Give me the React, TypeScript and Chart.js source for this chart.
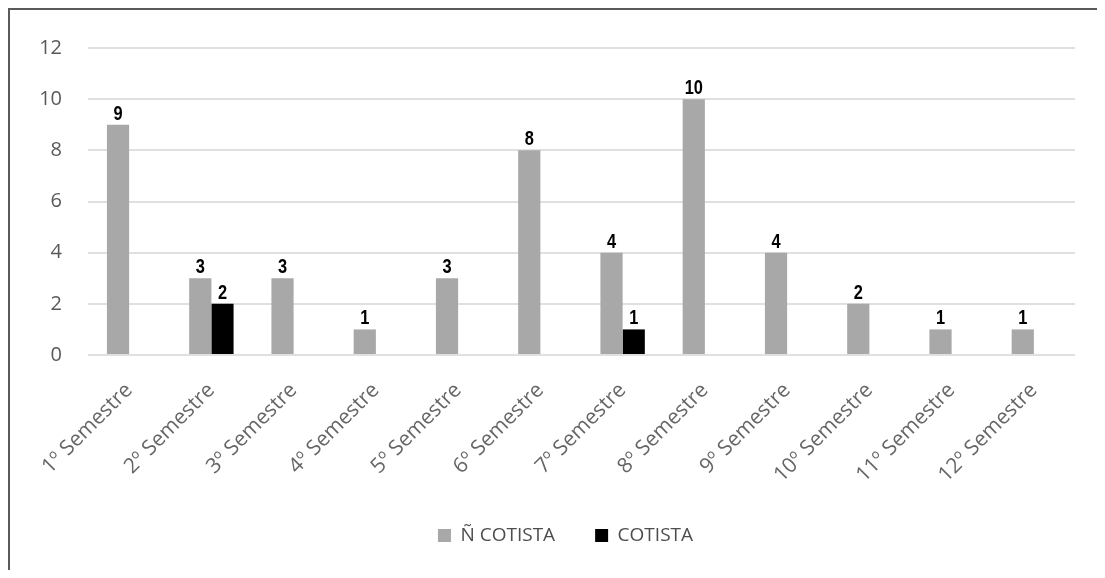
import React, { useEffect, useRef } from "react";
import { Chart, registerables } from "chart.js";

Chart.register(...registerables);

const categories = [
  "1º Semestre", "2º Semestre", "3º Semestre", "4º Semestre", "5º Semestre", "6º Semestre",
  "7º Semestre", "8º Semestre", "9º Semestre", "10º Semestre", "11º Semestre", "12º Semestre",
];
const naoCotista = [9, 3, 3, 1, 3, 8, 4, 10, 4, 2, 1, 1];
const cotista = [0, 2, 0, 0, 0, 0, 1, 0, 0, 0, 0, 0];
const yTicks = [0, 2, 4, 6, 8, 10, 12];

const valueLabels = {
  id: "valueLabels",
  afterDatasetsDraw(chart: any) {
    const ctx = chart.ctx;
    chart.data.datasets.forEach((ds: any, di: number) => {
      const meta = chart.getDatasetMeta(di);
      meta.data.forEach((bar: any, i: number) => {
        const v = ds.data[i];
        if (!v) return;
        ctx.save();
        ctx.font = "bold 20px 'Liberation Sans Narrow', 'Liberation Sans', Arial, sans-serif";
        ctx.fillStyle = "#000000";
        ctx.textAlign = "center";
        ctx.textBaseline = "alphabetic";
        ctx.translate(bar.x, bar.y - 5);
        ctx.scale(0.82, 1);
        ctx.fillText(String(v), 0, 0);
        ctx.restore();
      });
    });
  },
};

const legendShift = {
  id: "legendShift",
  afterLayout(chart: any) {
    if (chart.legend) {
      chart.legend.left += 46;
    }
  },
};

export default function App() {
  const ref = useRef<HTMLCanvasElement | null>(null);
  useEffect(() => {
    if (!ref.current) return;
    const chart = new Chart(ref.current, {
      type: "bar",
      data: {
        labels: categories,
        datasets: [
          {
            label: "Ñ COTISTA",
            data: naoCotista,
            backgroundColor: "#a8a8a8",
            categoryPercentage: 0.54,
            barPercentage: 1,
          },
          {
            label: "COTISTA",
            data: cotista,
            backgroundColor: "#000000",
            categoryPercentage: 0.54,
            barPercentage: 1,
          },
        ],
      },
      options: {
        animation: false,
        responsive: false,
        maintainAspectRatio: false,
        layout: { padding: { top: 32, left: 0, right: 22, bottom: 15 } },
        plugins: {
          tooltip: { enabled: false },
          legend: {
            position: "bottom",
            labels: {
              color: "#4d4d4d",
              font: { family: "'Open Sans', sans-serif", size: 19 },
              boxWidth: 13,
              boxHeight: 13,
              padding: 40,
            },
          },
        },
        scales: {
          x: {
            grid: { display: false },
            border: { display: false },
            ticks: {
              color: "#666666",
              font: { family: "'Open Sans', sans-serif", size: 21 },
              minRotation: 45,
              maxRotation: 45,
              padding: 15,
            },
            afterFit(scale: any) {
              scale.height = 131;
            },
          },
          y: {
            min: 0,
            max: 12,
            afterBuildTicks(scale: any) {
              scale.ticks = yTicks.map((v) => ({ value: v }));
            },
            grid: { color: "#e0e0e0", lineWidth: 2, drawTicks: false },
            border: { display: false },
            ticks: {
              color: "#595959",
              font: { family: "'Open Sans', sans-serif", size: 20 },
              padding: 26,
            },
            afterFit(scale: any) {
              scale.width = 78;
            },
          },
        },
      },
      plugins: [valueLabels, legendShift],
    });
    return () => chart.destroy();
  }, []);

  return (
    <div
      style={{
        boxSizing: "border-box",
        width: 1089,
        height: 562,
        borderTop: "2px solid #5a5a5a",
        borderLeft: "2px solid #5a5a5a",
        background: "#fff",
      }}
    >
      <canvas ref={ref} width={1087} height={560} style={{ display: "block" }} />
    </div>
  );
}
